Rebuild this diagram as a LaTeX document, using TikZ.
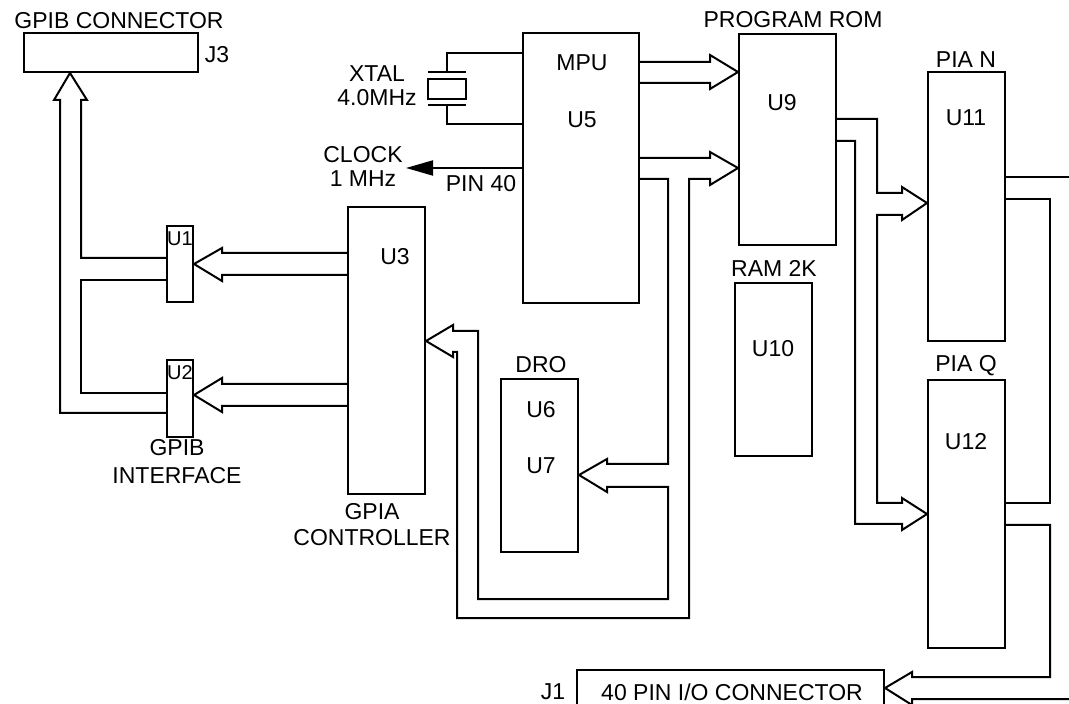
\documentclass[tikz,border=0pt]{standalone}
\usepackage{fontspec}
\setmainfont{Liberation Sans}
\usetikzlibrary{arrows.meta,fit}

\begin{document}
\begin{tikzpicture}[x=0.5pt,y=-0.5pt,line width=1pt,
	ChipStyle/.style={draw,rectangle,inner sep=0pt,fit={#1}},
	LabelStyle/.style={inner sep=0pt,align=center,font=\fontsize{11.5}{12}\selectfont},
	SmallStyle/.style={inner sep=0pt,font=\fontsize{10}{10}\selectfont}]
	\useasboundingbox (0,0) rectangle (1069,704);
	\clip (0,0) rectangle (1069,704);
	% chips
	\node[ChipStyle={(24,33) (198,72)}] (j3) {};
	\node[ChipStyle={(167,226) (193,302)}] (u1) {};
	\node[ChipStyle={(167,360) (193,437)}] (u2) {};
	\node[ChipStyle={(348,207) (425,494)}] (u3) {};
	\node[ChipStyle={(523,33) (639,303)}] (u5) {};
	\node[ChipStyle={(501,379) (578,552)}] (u6) {};
	\node[ChipStyle={(739,34) (836,245)}] (u9) {};
	\node[ChipStyle={(735,283) (812,456)}] (u10) {};
	\node[ChipStyle={(928,72) (1005,341)}] (u11) {};
	\node[ChipStyle={(928,380) (1005,648)}] (u12) {};
	\node[ChipStyle={(577,670) (884,730)}] (j1) {};
	\node[ChipStyle={(428,79) (466,99)}] (xtal) {};
	% labels
	\node[LabelStyle] (lj3) at (119,21) {GPIB CONNECTOR};
	\node[LabelStyle] (nj3) at (217,55) {J3};
	\node[SmallStyle] (nu1) at (180,239) {U1};
	\node[SmallStyle] (nu2) at (180,373) {U2};
	\node[LabelStyle,font=\fontsize{11.5}{14}\selectfont] (lgpib) at (177,462) {GPIB\\INTERFACE};
	\node[LabelStyle] (nu3) at (395,257) {U3};
	\node[LabelStyle,font=\fontsize{11.5}{13}\selectfont] (lgpia) at (372,525) {GPIA\\CONTROLLER};
	\node[LabelStyle] (lxtal) at (377,86) {XTAL\\4.0MHz};
	\node[LabelStyle] (lclk) at (363,166) {CLOCK\\1 MHz};
	\node[LabelStyle] (lpin) at (481,184) {PIN 40};
	\node[LabelStyle] (lmpu) at (582,63) {MPU};
	\node[LabelStyle] (nu5) at (582,120) {U5};
	\node[LabelStyle] (ldro) at (541,365) {DRO};
	\node[LabelStyle] (nu6) at (541,410) {U6};
	\node[LabelStyle] (nu7) at (541,466) {U7};
	\node[LabelStyle] (lrom) at (793,20) {PROGRAM ROM};
	\node[LabelStyle] (nu9) at (782,103) {U9};
	\node[LabelStyle] (lram) at (774,268) {RAM 2K};
	\node[LabelStyle] (nu10) at (773,349) {U10};
	\node[LabelStyle] (lpian) at (966,60) {PIA N};
	\node[LabelStyle] (nu11) at (966,118) {U11};
	\node[LabelStyle] (lpiaq) at (966,366) {PIA Q};
	\node[LabelStyle] (nu12) at (966,442) {U12};
	\node[LabelStyle] (nj1) at (553,692) {J1};
	\node[LabelStyle] (lj1) at (732,692) {40 PIN I/O CONNECTOR};
	% crystal and clock
	\draw (u5.west |- 0,53) -- (447,53) -- (447,72);
	\draw (428,72) -- (466,72) (428,105) -- (466,105);
	\draw (447,105) -- (447,124) -- (u5.west |- 0,124);
	\coordinate (clk) at (406,168);
	\draw[-{Triangle[length=13.5pt,width=7.5pt]}] (u5.west |- 0,168) -- (clk);
	% GPIB buses
	\draw (u2.west |- 0,413) -- (60,413) -- (60,100) -- (54,100) -- (j3.south -| 70,0)
		-- (87,100) -- (81,100) -- (81,258) -- (u1.west |- 0,258);
	\draw (u1.west |- 0,280) -- (81,280) -- (81,393) -- (u2.west |- 0,393);
	\draw (u3.west |- 0,253) -- (222,253) -- (222,248) -- (u1.east |- 0,264)
		-- (222,281) -- (222,275) -- (u3.west |- 0,275);
	\draw (u3.west |- 0,384) -- (222,384) -- (222,378) -- (u2.east |- 0,395)
		-- (222,412) -- (222,406) -- (u3.west |- 0,406);
	% MPU buses
	\draw (u5.east |- 0,62) -- (710,62) -- (710,55) -- (u9.west |- 0,72)
		-- (710,89) -- (710,83) -- (u5.east |- 0,83);
	\draw (u5.east |- 0,158) -- (710,158) -- (710,152) -- (u9.west |- 0,168)
		-- (710,185) -- (710,179) -- (689,179) -- (689,618) -- (457,618)
		-- (457,352) -- (453,352) -- (453,357) -- (u3.east |- 0,341)
		-- (453,325) -- (453,331) -- (478,331) -- (478,599) -- (668,599)
		-- (668,487) -- (607,487) -- (607,492) -- (u6.east |- 0,475)
		-- (607,459) -- (607,464) -- (668,464) -- (668,179) -- (u5.east |- 0,179);
	% ROM to PIA buses
	\draw (u9.east |- 0,119) -- (877,119) -- (877,193) -- (902,193) -- (902,187)
		-- (u11.west |- 0,203) -- (902,220) -- (902,215) -- (877,215)
		-- (877,503) -- (902,503) -- (902,498) -- (u12.west |- 0,514)
		-- (902,530) -- (902,524) -- (855,524) -- (855,141) -- (u9.east |- 0,141);
	% PIA to I/O connector
	\coordinate (outa) at (1080,177);
	\coordinate (outb) at (1080,699);
	\draw (u11.east |- 0,177) -- (outa);
	\draw (u11.east |- 0,199) -- (1050,199) -- (1050,503) -- (u12.east |- 0,503);
	\draw (u12.east |- 0,525) -- (1050,525) -- (1050,677) -- (912,677) -- (912,672)
		-- (j1.east |- 0,688) -- (912,705) -- (912,699) -- (outb);
\end{tikzpicture}
\end{document}
